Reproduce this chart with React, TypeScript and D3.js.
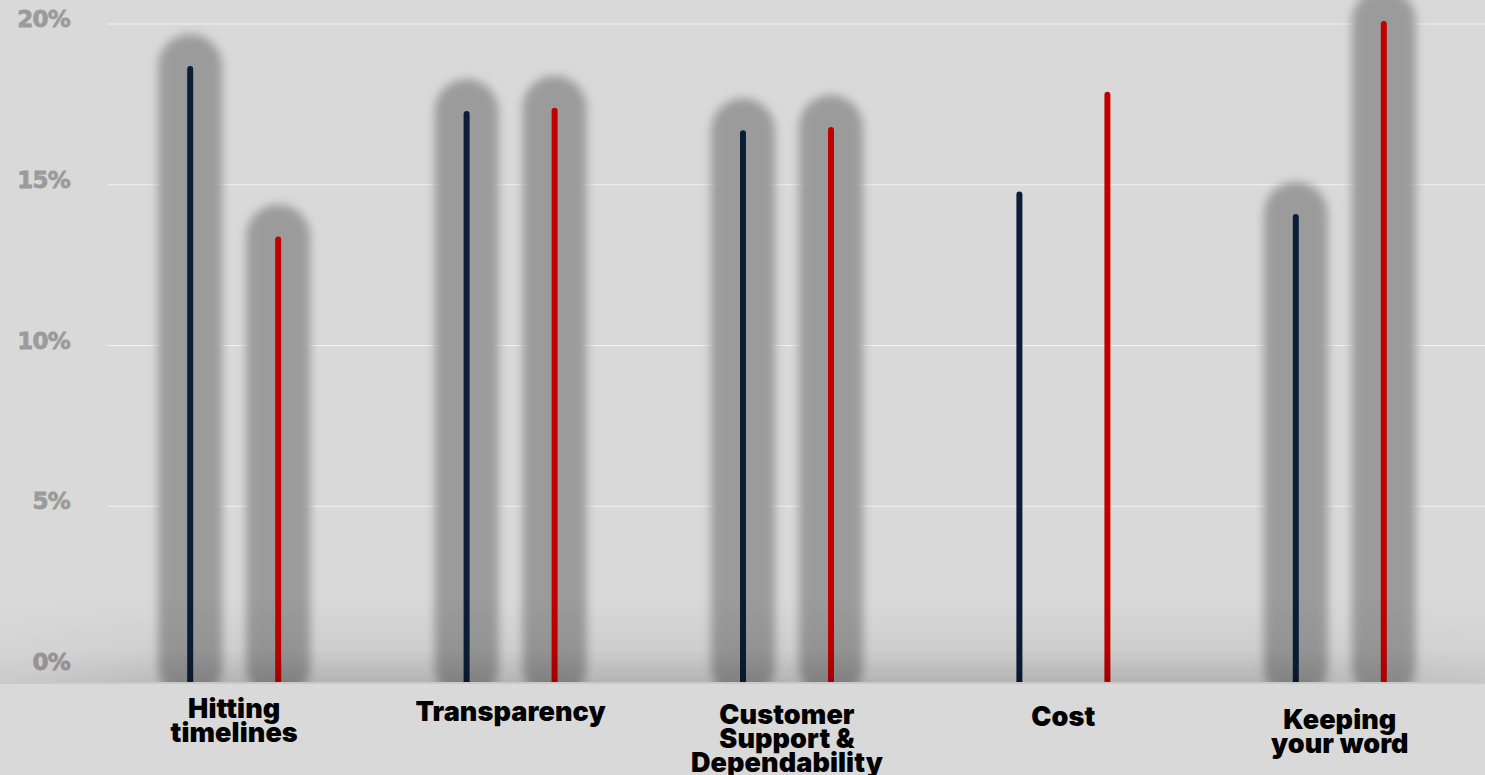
import React from "react";
import * as d3 from "d3";

const categories = [
  ["Hitting", "timelines"],
  ["Transparency"],
  ["Customer", "Support &", "Dependability"],
  ["Cost"],
  ["Keeping", "your word"],
];
const seriesA = [18.6, 17.2, 16.6, 14.7, 14.0];
const seriesB = [13.3, 17.3, 16.7, 17.8, 20.0];
const haloShown = [true, true, true, false, true];
const yTicks = [0, 5, 10, 15, 20];

const W = 1485;
const H = 775;
const COLOR_A = "#0b1e38";
const COLOR_B = "#c20000";

export default function App() {
  const y = d3.scaleLinear().domain([0, 20]).range([667, 24]);
  const x = d3
    .scaleBand<number>()
    .domain(categories.map((_, i) => i))
    .range([96, 1478]);
  const floorY = y(0) + 15;
  const off = 44;
  const r = 32;
  const bw = x.bandwidth();

  const bars: { cx: number; v: number; color: string; halo: boolean }[] = [];
  categories.forEach((_, i) => {
    const c = (x(i) as number) + bw / 2;
    bars.push({ cx: c - off, v: seriesA[i], color: COLOR_A, halo: haloShown[i] });
    bars.push({ cx: c + off, v: seriesB[i], color: COLOR_B, halo: haloShown[i] });
  });

  return (
    <svg
      width={W}
      height={H}
      style={{ position: "absolute", left: 0, top: 0, display: "block" }}
    >
      <defs>
        <filter id="blur" x="-50%" y="-20%" width="200%" height="140%">
          <feGaussianBlur stdDeviation="5" />
        </filter>
        <clipPath id="above">
          <rect x={0} y={0} width={W} height={floorY} />
        </clipPath>
        <linearGradient id="floorV" x1="0" y1="0" x2="0" y2="1">
          <stop offset="0" stopColor="#000" stopOpacity="0" />
          <stop offset="0.6" stopColor="#000" stopOpacity="0.05" />
          <stop offset="1" stopColor="#000" stopOpacity="0.17" />
        </linearGradient>
        <linearGradient id="floorH" x1="0" y1="0" x2="1" y2="0">
          <stop offset="0" stopColor="#fff" stopOpacity="0.35" />
          <stop offset="0.15" stopColor="#fff" stopOpacity="1" />
          <stop offset="0.85" stopColor="#fff" stopOpacity="1" />
          <stop offset="1" stopColor="#fff" stopOpacity="0.5" />
        </linearGradient>
        <mask id="floorMask">
          <rect x={0} y={0} width={W} height={H} fill="url(#floorH)" />
        </mask>
      </defs>
      <rect x={0} y={0} width={W} height={H} fill="#d9d9d9" />

      {yTicks.map((t) => (
        <g key={t}>
          {t > 0 && (
            <line x1={107} x2={W} y1={y(t)} y2={y(t)} stroke="#f2f2f2" strokeWidth={1} />
          )}
          <text
            x={70}
            y={y(t) + 3}
            textAnchor="end"
            fontFamily="DejaVu Sans"
            fontWeight="bold"
            fontSize={23}
            fill="#9b9b9b"
            stroke="#9b9b9b"
            strokeWidth={0.8}
            letterSpacing={-0.8}
          >
            {t}%
          </text>
        </g>
      ))}

      <g clipPath="url(#above)">
        {bars
          .filter((b) => b.halo)
          .map((b, i) => (
            <rect
              key={"h" + i}
              x={b.cx - r}
              y={y(b.v) - r - 3}
              width={2 * r}
              height={floorY - y(b.v) + r + 20}
              rx={r}
              ry={r}
              fill="#9b9b9b"
              filter="url(#blur)"
            />
          ))}
        {bars.map((b, i) => (
          <line
            key={"b" + i}
            x1={b.cx}
            x2={b.cx}
            y1={y(b.v)}
            y2={floorY + 10}
            stroke={b.color}
            strokeWidth={6}
            strokeLinecap="round"
          />
        ))}
        <rect
          x={0}
          y={600}
          width={W}
          height={floorY - 600}
          fill="url(#floorV)"
          mask="url(#floorMask)"
        />
      </g>
      <line x1={0} x2={W} y1={floorY + 1} y2={floorY + 1} stroke="#c9c9c9" strokeWidth={2} />

      {categories.map((lines, i) => {
        const c = (x(i) as number) + bw / 2;
        const y0 = 718 + 2.75 * i;
        return (
          <text
            key={i}
            x={c}
            y={y0}
            textAnchor="middle"
            fontFamily="Inter"
            fontWeight={900}
            fontSize={27}
            fill="#000"
            letterSpacing={0.1}
          >
            {lines.map((l, j) => (
              <tspan key={j} x={c} dy={j === 0 ? 0 : 24}>
                {l}
              </tspan>
            ))}
          </text>
        );
      })}
    </svg>
  );
}
